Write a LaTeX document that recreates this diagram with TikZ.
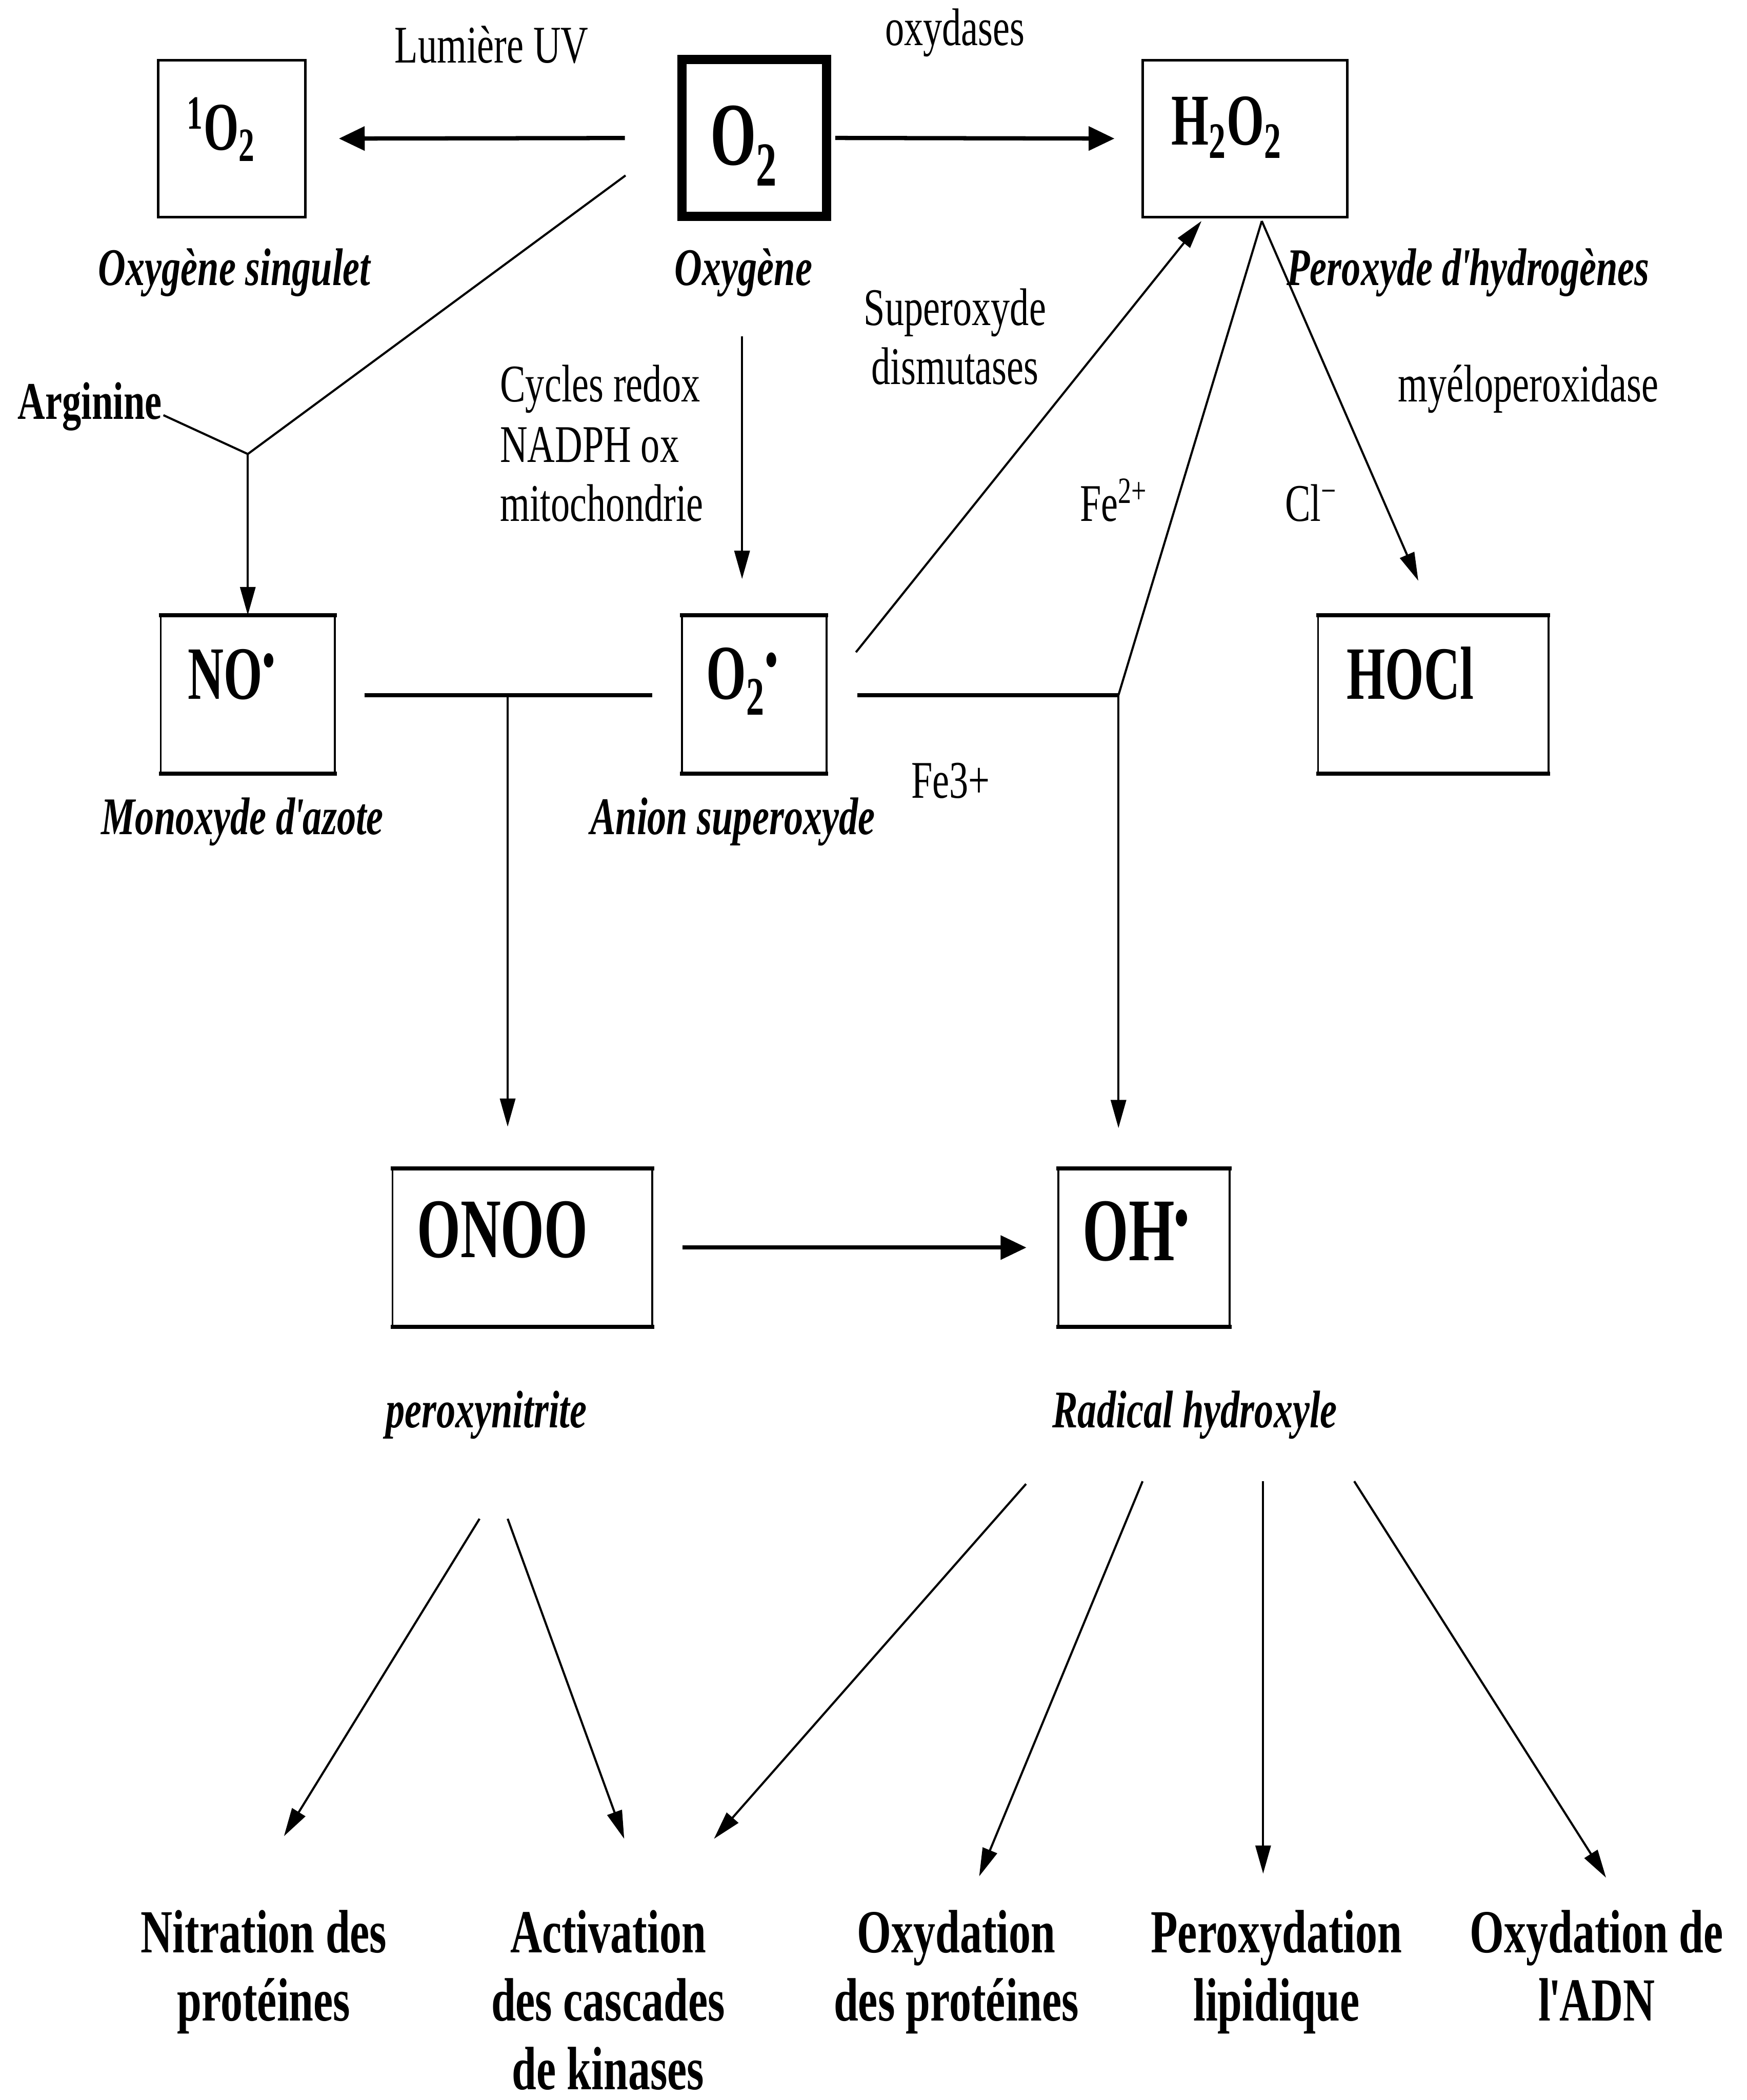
\documentclass[tikz,border=0pt]{standalone}
\usepackage{fontspec}
\setmainfont{Liberation Serif}[FakeStretch=0.72]
\newfontfamily\chemfont{Liberation Serif}[FakeStretch=0.66]
\usetikzlibrary{arrows.meta}
\tikzset{
  thinln/.style={line width=0.9pt},
  thickln/.style={line width=1.8pt},
  arrowthin/.style={-{Triangle[length=12pt,width=6.5pt]}},
  arrowthick/.style={-{Triangle[length=11pt,width=10pt]}},
  boxA/.style={draw, line width=1.1pt, inner sep=0pt, minimum height=23.4mm},
  boxB/.style={draw, line width=0.8pt, inner sep=0pt, minimum height=23.4mm},
  chem/.style={anchor=base west, inner sep=0pt},
  plain/.style={anchor=base, inner sep=0pt, font=\fontsize{22.5}{27}\selectfont},
  ital/.style={anchor=base, inner sep=0pt, font=\fontsize{22.5}{27}\selectfont\bfseries\itshape},
  effect/.style={anchor=base, inner sep=0pt, font=\fontsize{26}{30}\selectfont\bfseries},
}
\newcommand{\chemsize}[1]{\chemfont\bfseries\fontsize{#1}{#1}\selectfont}
\newcommand{\apos}{\kern-0.03em\textquotesingle\kern-0.1em}
\begin{document}
\begin{tikzpicture}[x=0.02cm, y=-0.02cm]
\fill[white] (0,0) rectangle (1304,1568);
\useasboundingbox (0,0) rectangle (1304,1568);

% ---------- boxes ----------
\node[boxA, minimum width=22mm] (s1) at (173,103.5) {};
\node[draw, line width=4pt, inner sep=0pt, minimum width=21.6mm, minimum height=23.4mm] (o2) at (563,103) {};
\node[boxA, minimum width=30.6mm] (h2o2) at (929.5,103.5) {};
\node[boxB, minimum width=26mm] (no) at (185,518.5) {};
\node[boxB, minimum width=21.6mm] (sup) at (563,518.5) {};
\node[boxB, minimum width=34.4mm] (hocl) at (1070,518.5) {};
\node[boxB, minimum width=38.8mm] (onoo) at (390,931.5) {};
\node[boxB, minimum width=25.6mm] (oh) at (854,931.5) {};
\foreach \b in {no,sup,hocl,onoo,oh}{
  \draw[line width=1.8pt] ([xshift=-0.4pt]\b.north west) -- ([xshift=0.4pt]\b.north east);
  \draw[line width=1.8pt] ([xshift=-0.4pt]\b.south west) -- ([xshift=0.4pt]\b.south east);
}

% ---------- box contents ----------
\node[chem, font=\chemsize{29}] (ts1) at (139,112) {\textsuperscript{1}O\textsubscript{2}};
\node[chem, font=\chemsize{38}] (to2) at (530,123) {O\textsubscript{2}};
\node[chem, font=\chemsize{31}] (th2o2) at (874,108) {H\textsubscript{2}O\textsubscript{2}};
\node[chem, font=\chemsize{32}] (tno) at (140,522) {NO\textsuperscript{•}};
\node[chem, font=\chemsize{33}] (tsup) at (527,522) {O\textsubscript{2}\textsuperscript{•}};
\node[chem, font=\chemsize{32}] (thocl) at (1005,522) {HOCl};
\node[chem, font=\chemsize{36}] (tonoo) at (311,939) {ONOO};
\node[chem, font=\chemsize{38}] (toh) at (808,941) {OH\textsuperscript{•}};

% ---------- labels ----------
\node[plain] (uv) at (367,47) {Lumière UV};
\node[plain] (oxyd) at (713,34) {oxydases};
\node[ital] (lsing) at (175,213) {Oxygène singulet};
\node[ital] (loxy) at (555,213) {Oxygène};
\node[ital] (lperox) at (1096,213) {Peroxyde d\apos hydrogènes};
\node[plain] (sod1) at (713,243) {Superoxyde};
\node[plain] (sod2) at (713,287) {dismutases};
\node[plain] (mpo) at (1141,300) {myéloperoxidase};
\node[plain, anchor=base west] (cyc1) at (373,300) {Cycles redox};
\node[plain, anchor=base west] (cyc2) at (373,345) {NADPH ox};
\node[plain, anchor=base west] (cyc3) at (373,389) {mitochondrie};
\node[plain, anchor=base west] (fe2) at (806,389) {Fe\textsuperscript{2+}};
\node[plain, anchor=base west] (cl) at (959,389) {Cl\textsuperscript{−}};
\node[plain, anchor=base west] (fe3) at (680,596) {Fe3+};
\node[plain, anchor=base west, font=\fontsize{22.5}{27}\selectfont\bfseries] (arg) at (13,313) {Arginine};
\node[ital] (lno) at (181,623) {Monoxyde d\apos azote};
\node[ital] (lsup) at (547,623) {Anion superoxyde};
\node[ital] (lonoo) at (363,1066) {peroxynitrite};
\node[ital] (loh) at (892,1066) {Radical hydroxyle};

% ---------- effects ----------
\node[effect] (e1a) at (197,1458) {Nitration des};
\node[effect] (e1b) at (197,1509) {protéines};
\node[effect] (e2a) at (454,1458) {Activation};
\node[effect] (e2b) at (454,1509) {des cascades};
\node[effect] (e2c) at (454,1560) {de kinases};
\node[effect] (e3a) at (714,1458) {Oxydation};
\node[effect] (e3b) at (714,1509) {des protéines};
\node[effect] (e4a) at (953,1458) {Peroxydation};
\node[effect] (e4b) at (953,1509) {lipidique};
\node[effect] (e5a) at (1192,1458) {Oxydation de};
\node[effect] (e5b) at (1192,1509) {l\apos ADN};

% ---------- connectors ----------
\draw[thickln, arrowthick, shorten <=7.8mm, shorten >=4.8mm] (o2.west) -- (s1.east);
\draw[thickln, arrowthick, shorten <=0.6mm, shorten >=4mm] (o2.east) -- (h2o2.west);

\coordinate (dn) at (554,251);
\draw[thinln, arrowthin, shorten >=5.4mm] (dn) -- (sup.north -| dn);

\coordinate (g1) at (467,131);
\coordinate (jY) at (185,339);
\coordinate (argE) at (122,310);
\draw[thinln] (g1) -- (jY) -- (argE);
\draw[thinln, arrowthin] (jY) -- (no.north -| jY);

\coordinate (hL1) at (272,519);
\coordinate (hL2) at (487,519);
\coordinate (jL) at (379,519);
\draw[thickln] (hL1) -- (hL2);
\draw[thinln, arrowthin, shorten >=6.2mm] (jL) -- (onoo.north -| jL);

\coordinate (hR1) at (640,519);
\coordinate (jR) at (835,519);
\coordinate (hb) at (942,165);
\draw[thickln] (hR1) -- (jR);
\draw[thinln] (jR) -- (hb);
\draw[thinln, arrowthin, shorten >=6mm] (jR) -- (oh.north -| jR);

\coordinate (c1) at (639,487);
\coordinate (t1) at (897,165);
\draw[thinln, arrowthin] (c1) -- (t1);
\draw[thinln, arrowthin, shorten >=5.6mm] (hb) -- (hocl.north);

\draw[thickln, arrowthick, shorten <=4.4mm, shorten >=4.6mm] (onoo.east) -- (oh.west);

\coordinate (p1) at (358,1134);
\coordinate (p2) at (379,1134);
\coordinate (q1) at (766,1108);
\coordinate (q2) at (853,1106);
\coordinate (q3) at (943,1106);
\coordinate (q4) at (1011,1106);
\coordinate (r1) at (212,1371);
\coordinate (r2) at (466,1373);
\coordinate (r3) at (533,1373);
\coordinate (r4) at (731,1401);
\coordinate (r5) at (943,1399);
\coordinate (r6) at (1199,1402);
\draw[thinln, arrowthin] (p1) -- (r1);
\draw[thinln, arrowthin] (p2) -- (r2);
\draw[thinln, arrowthin] (q1) -- (r3);
\draw[thinln, arrowthin] (q2) -- (r4);
\draw[thinln, arrowthin] (q3) -- (r5);
\draw[thinln, arrowthin] (q4) -- (r6);
\end{tikzpicture}
\end{document}
